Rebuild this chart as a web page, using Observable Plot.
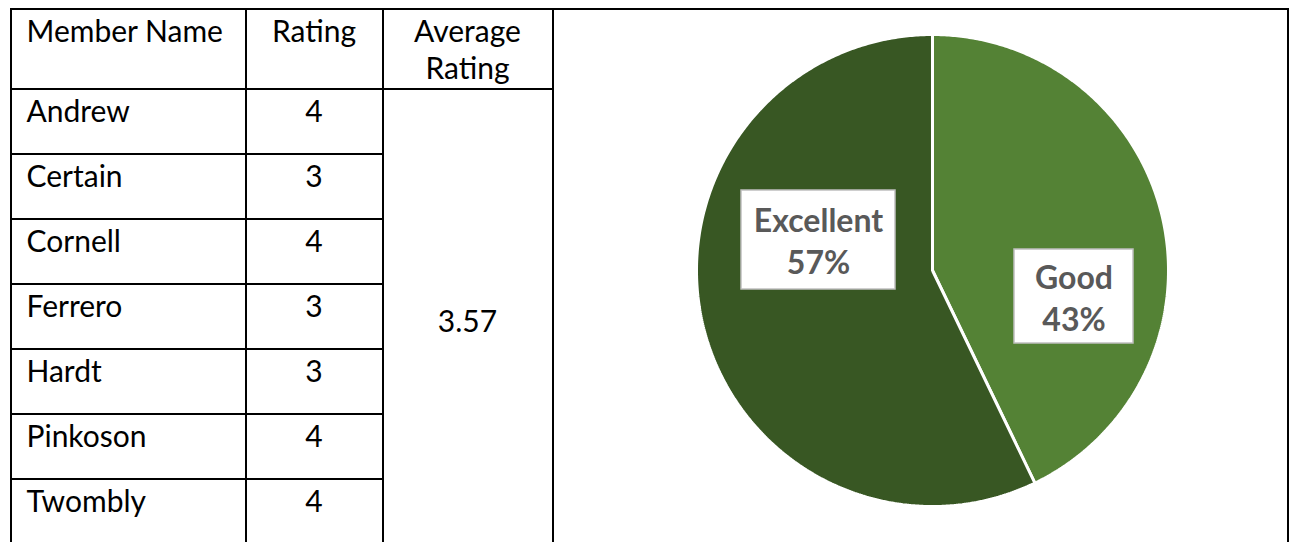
<!DOCTYPE html>
<html>
<head>
<meta charset="utf-8">
<script src="https://cdn.jsdelivr.net/npm/d3@7"></script>
<script src="https://cdn.jsdelivr.net/npm/@observablehq/plot@0.6"></script>
<style>
  html, body { margin: 0; padding: 0; background: #fff; width: 1289px; height: 542px; overflow: hidden; }
  #wrap { position: relative; width: 1289px; height: 542px; overflow: hidden; background: #fff; }
  table { position: absolute; left: 9.5px; top: 8px; border-collapse: collapse; table-layout: fixed;
          font-family: Lato, "Open Sans", sans-serif; font-size: 30px; color: #000; }
  td, th { border: 2px solid #000; padding: 0; font-weight: normal; box-sizing: border-box; }
  th { vertical-align: top; padding-top: 2px; line-height: 37px; }
  tr.head { height: 80px; }
  tr.row { height: 65px; }
  td.name, th.name { text-align: left; padding-left: 15px; }
  td.rate, th.rate, th.avg { text-align: center; }
  td.name, td.rate { vertical-align: top; padding-top: 2px; line-height: 37px; }
  td.avg { text-align: center; vertical-align: middle; line-height: 37px; padding-top: 8px; }
  #chart { position: absolute; left: 553px; top: 10px; }
  #chart svg { display: block; background: transparent; }
</style>
</head>
<body>
<div id="wrap">
  <table id="tbl"></table>
  <div id="chart"></div>
</div>
<script>
// ---- data ----
const members = ["Andrew", "Certain", "Cornell", "Ferrero", "Hardt", "Pinkoson", "Twombly"];
const ratings = [4, 3, 4, 3, 3, 4, 4];
const headers = ["Member Name", "Rating", "Average\nRating"];
const ratingCategory = {4: "Excellent", 3: "Good"};
const categories = ["Good", "Excellent"];          // drawn clockwise from 12 o'clock
const categoryColors = ["#548235", "#385723"];

// ---- table ----
const avg = d3.mean(ratings);
const tbl = document.getElementById("tbl");
const colW = [235, 137, 170, 735];
const cg = document.createElement("colgroup");
colW.forEach(w => { const c = document.createElement("col"); c.style.width = w + "px"; cg.appendChild(c); });
tbl.appendChild(cg);
const hr = document.createElement("tr"); hr.className = "head";
headers.forEach((h, i) => {
  const th = document.createElement("th");
  th.className = ["name", "rate", "avg"][i];
  th.innerHTML = h.split("\n").join("<br>");
  hr.appendChild(th);
});
const chartCell = document.createElement("td");
chartCell.rowSpan = members.length + 1;
hr.appendChild(chartCell);
tbl.appendChild(hr);
members.forEach((m, i) => {
  const tr = document.createElement("tr"); tr.className = "row";
  const a = document.createElement("td"); a.className = "name"; a.textContent = m; tr.appendChild(a);
  const b = document.createElement("td"); b.className = "rate"; b.textContent = ratings[i]; tr.appendChild(b);
  if (i === 0) {
    const c = document.createElement("td"); c.className = "avg"; c.rowSpan = members.length;
    c.textContent = avg.toFixed(2); tr.appendChild(c);
  }
  tbl.appendChild(tr);
});

// ---- pie ----
const counts = categories.map(c => ratings.filter(r => ratingCategory[r] === c).length);
const total = d3.sum(counts);
const W = 733, H = 532, cx = 379, cy = 260, R = 236;
const pts = [];
let start = 0;
categories.forEach((c, i) => {
  const end = start + counts[i] / total * 2 * Math.PI;
  pts.push({cat: c, x: 0, y: 0});
  const n = Math.max(2, Math.ceil((end - start) / (Math.PI / 360)));
  for (let k = 0; k <= n; k++) {
    const a = start + (end - start) * k / n;
    pts.push({cat: c, x: Math.sin(a), y: Math.cos(a)});
  }
  pts.push({cat: c, x: 0, y: 0});
  start = end;
});

// label placement (layout, pixels relative to pie centre)
const labelLayout = {
  Excellent: {dx: -114, dy: -30.5, w: 154, h: 99},
  Good: {dx: 141.5, dy: 26, w: 119, h: 94}
};
const labels = categories.map((c, i) => {
  const L = labelLayout[c];
  return {
    cat: c,
    text: c + "\n" + Math.round(counts[i] / total * 100) + "%",
    x: L.dx / R, y: -L.dy / R,
    x1: (L.dx - L.w / 2) / R, x2: (L.dx + L.w / 2) / R,
    y1: -(L.dy - L.h / 2) / R, y2: -(L.dy + L.h / 2) / R
  };
});

const chart = Plot.plot({
  width: W, height: H, margin: 0,
  style: {background: "transparent", overflow: "visible"},
  x: {domain: [-1, 1], range: [cx - R, cx + R], axis: null},
  y: {domain: [-1, 1], range: [cy + R, cy - R], axis: null},
  color: {domain: categories, range: categoryColors},
  marks: [
    Plot.line(pts, {x: "x", y: "y", z: "cat", fill: "cat", stroke: "white", strokeWidth: 3, strokeLinejoin: "miter", curve: "linear"}),
    Plot.rect(labels, {x1: "x1", x2: "x2", y1: "y1", y2: "y2", fill: "white", stroke: "#bfbfbf", strokeWidth: 1.5}),
    Plot.text(labels, {x: "x", y: "y", text: "text", dy: 0, lineHeight: 1.31, lineAnchor: "middle",
      fontFamily: "Lato, 'Open Sans', sans-serif", fontWeight: "bold", fontSize: 32, fill: "#595959"})
  ]
});
document.getElementById("chart").appendChild(chart);
</script>
</body>
</html>
